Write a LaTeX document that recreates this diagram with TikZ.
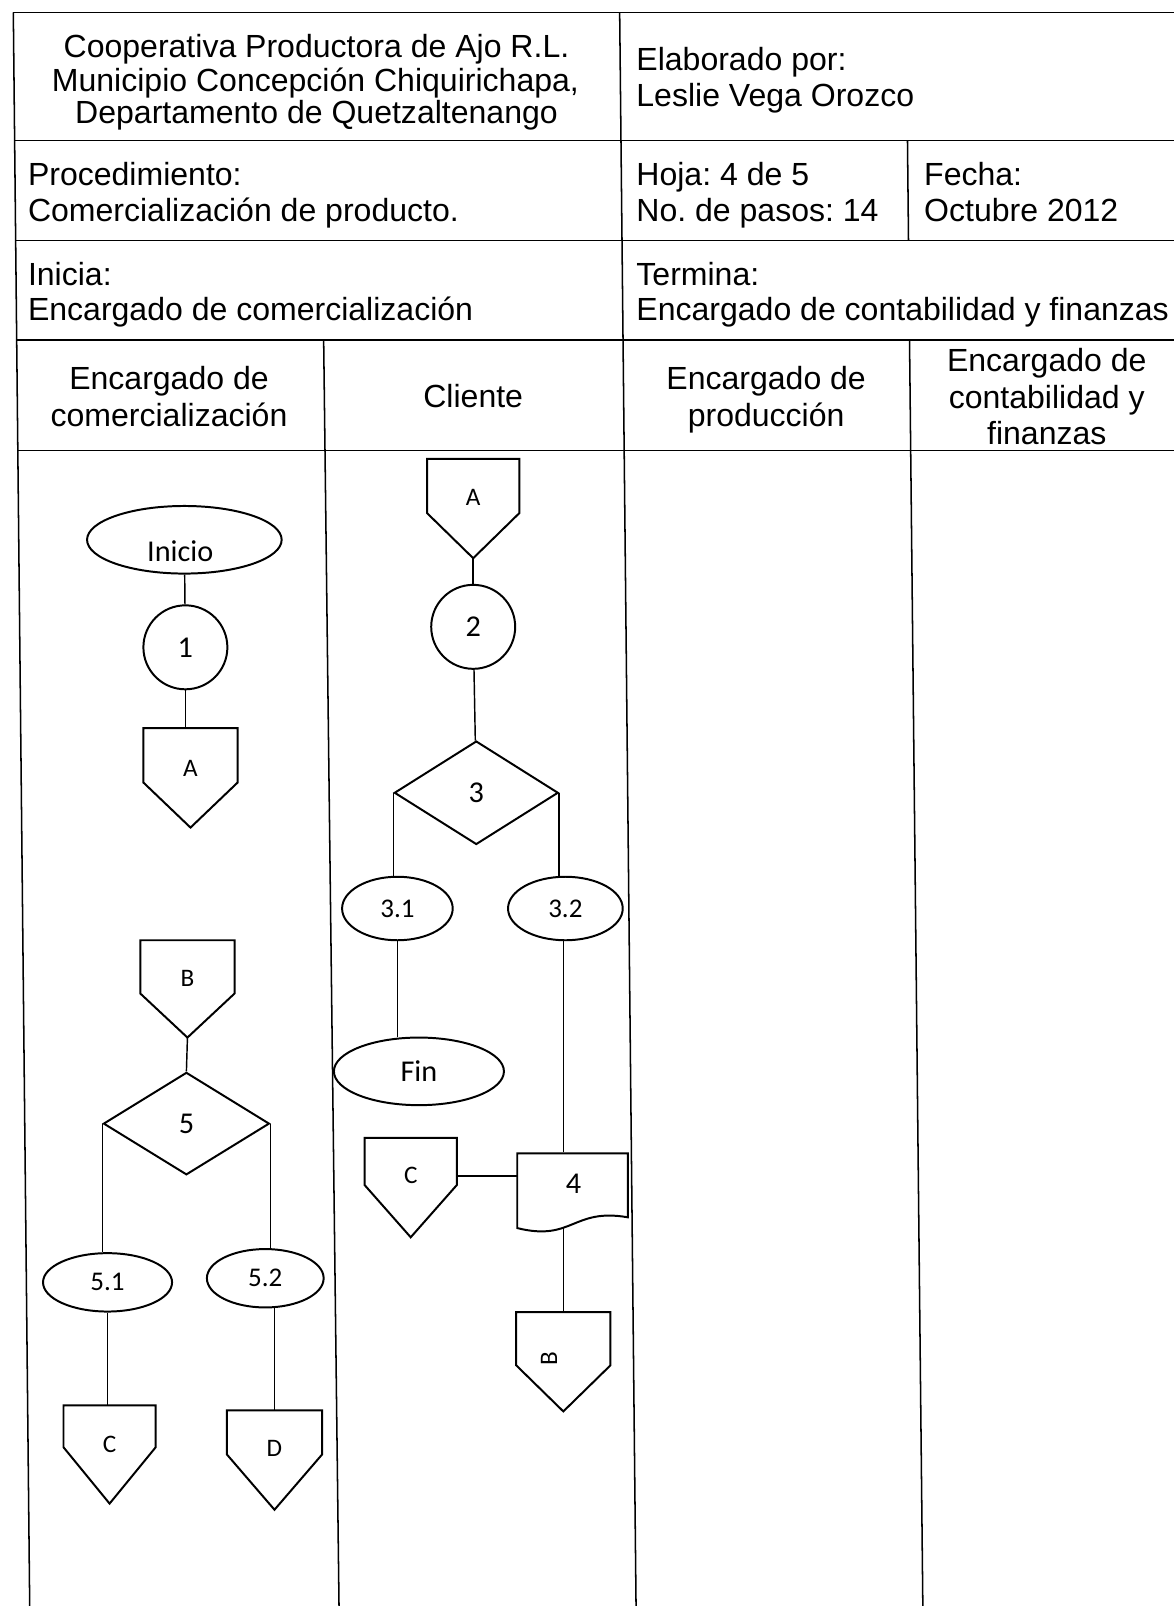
\documentclass[tikz,border=0pt]{standalone}
\usepackage{fontspec}
\setmainfont{Liberation Sans}
\newfontfamily\flowfont{Carlito}
\usetikzlibrary{shapes.geometric}
\frenchspacing

\newcommand\pxu{0.02cm}
% off-page connector: name, centre x, half width, top y, side y, tip y, label y, label
\newcommand\offpage[8]{%
  \draw[shp] (#2-#3,#4) -- (#2+#3,#4) -- (#2+#3,#5) -- (#2,#6) -- (#2-#3,#5) -- cycle;
  \node[lbl] (#1) at (#2,#7) {#8};
  \coordinate (#1-top) at (#2,#4);
  \coordinate (#1-tip) at (#2,#6);
  \coordinate (#1-se) at (#2+#3,#5);
}

\begin{document}
\begin{tikzpicture}[x=0.02cm, y=-0.02cm,
  grid/.style={line width=0.85pt},
  head/.style={font=\fontsize{17.8}{20}\selectfont, inner sep=0pt},
  flowtext/.style={font=\flowfont\fontsize{15}{18}\selectfont},
  bigtext/.style={font=\flowfont\fontsize{16.8}{20}\selectfont},
  shp/.style={draw, line width=1.1pt, line join=miter, flowtext, inner sep=0pt},
  term/.style={shp, ellipse},
  proc/.style={shp, circle, minimum size=82*\pxu, bigtext},
  dec/.style={shp, diamond, bigtext},
  link/.style={line width=0.8pt},
  lbl/.style={font=\flowfont\fontsize{14}{17}\selectfont, inner sep=0pt}]

\fill[white] (0,0) rectangle (1146,1568);
\useasboundingbox (0,0) rectangle (1146,1568);

% ---- table frame ----
\draw[grid] (13,12) -- (1146,12);
\draw[grid] (14.3,137) -- (1146,137);
\draw[grid] (15.3,235) -- (1146,235);
\draw[grid] (16.3,332) -- (1146,332);
\draw[grid] (17.4,440) -- (1146,440);
\draw[grid] (13,12) -- (29,1568);
\draw[grid] (605,12) -- (621,1568);
\draw[grid] (886,137) -- (887,235);
\draw[grid] (888,332) -- (901,1568);
\draw[grid] (316,332) -- (331,1568);

% ---- heading texts ----
\node[head, anchor=base] (coop1) at (309,56) {Cooperativa Productora de Ajo R.L.};
\node[head, anchor=base] (coop2) at (308,89) {Municipio Concepción Chiquirichapa,};
\node[head, anchor=base] (coop3) at (309,121) {Departamento de Quetzaltenango};
\node[head, anchor=base west] (elab1) at (621,69) {Elaborado por:};
\node[head, anchor=base west] (elab2) at (621,104) {Leslie Vega Orozco};
\node[head, anchor=base west] (proc1) at (27,181) {Procedimiento:};
\node[head, anchor=base west] (proc2) at (27,216) {Comercialización de producto.};
\node[head, anchor=base west] (hoja1) at (621,181) {Hoja: 4 de 5};
\node[head, anchor=base west] (hoja2) at (621,216) {No. de pasos: 14};
\node[head, anchor=base west] (fecha1) at (902,181) {Fecha:};
\node[head, anchor=base west] (fecha2) at (902,216) {Octubre 2012};
\node[head, anchor=base west] (ini1) at (27,279) {Inicia:};
\node[head, anchor=base west] (ini2) at (27,313) {Encargado de comercialización};
\node[head, anchor=base west] (ter1) at (621,279) {Termina:};
\node[head, anchor=base west] (ter2) at (621,313) {Encargado de contabilidad y finanzas};

% ---- lane titles ----
\node[head, anchor=base] (lane1a) at (165,380) {Encargado de};
\node[head, anchor=base] (lane1b) at (165,416) {comercialización};
\node[head, anchor=base] (lane2) at (462,398) {Cliente};
\node[head, anchor=base] (lane3a) at (748,380) {Encargado de};
\node[head, anchor=base] (lane3b) at (748,416) {producción};
\node[head, anchor=base] (lane4a) at (1022,363) {Encargado de};
\node[head, anchor=base] (lane4b) at (1022,399) {contabilidad y};
\node[head, anchor=base] (lane4c) at (1022,434) {finanzas};

% ---- lane 1: Encargado de comercialización ----
\node[term, minimum width=190*\pxu, minimum height=66*\pxu] (inicio) at (180,527) {};
\node[bigtext, inner sep=0pt] (inicio-txt) at (176,538) {Inicio};
\node[proc] (p1) at (181,632) {1};
\offpage{cA1}{186}{46}{711}{764}{808}{750}{A}
\draw[link] (inicio) -- (p1);
\draw[link] (p1.south) -- (p1.south |- cA1-top);

\offpage{cB1}{183}{46}{918}{970}{1013}{955}{B}
\node[dec, minimum width=162*\pxu, minimum height=100*\pxu] (d5) at (182,1097) {5};
\node[term, minimum width=126*\pxu, minimum height=57*\pxu] (e51) at (105,1252) {5.1};
\node[term, minimum width=114*\pxu, minimum height=57*\pxu] (e52) at (259,1248) {5.2};
\offpage{cC1}{107}{45}{1372}{1413}{1468}{1410}{C}
\offpage{cD1}{268}{46.5}{1377}{1420}{1474}{1414}{D}
\draw[link] (cB1-tip) -- (d5.north);
\draw[link] (d5.west) -- (d5.west |- e51.north);
\draw[link] (d5.east) -- (d5.east |- e52.north);
\draw[link] (e51.south) -- (e51.south |- cC1-top);
\draw[link] (cD1-top |- e52.south) -- (cD1-top);

% ---- lane 2: Cliente ----
\offpage{cA2}{462}{45}{448}{501}{545}{486}{A}
\node[proc] (p2) at (462,612) {2};
\node[dec, minimum width=160*\pxu, minimum height=101*\pxu] (d3) at (465,774) {3};
\node[term, minimum width=108*\pxu, minimum height=62*\pxu] (e31) at (388,887) {3.1};
\node[term, minimum width=112*\pxu, minimum height=62*\pxu] (e32) at (552,887) {3.2};
\node[term, bigtext, minimum width=166*\pxu, minimum height=66*\pxu] (fin) at (409,1046) {Fin};
\draw[link] (cA2-tip) -- (p2);
\draw[link] (p2) -- (d3);
\draw[link] (d3.west) -- (d3.west |- e31.north);
\draw[link] (d3.east) -- (d3.east |- e32.north);
\draw[link] (e31.south) -- (e31.south |- fin.north);

% document step 4 with wavy lower edge
\draw[shp] (505,1126) -- (613,1126) -- (613,1188.5)
  .. controls (559,1179) and (559,1212.5) .. (505,1199) -- cycle;
\node[bigtext, inner sep=0pt, minimum width=108*\pxu, minimum height=62*\pxu] (d4) at (560,1156) {4};
\coordinate (d4-foot) at (550,1198.5);

\offpage{cC2}{401}{45}{1111}{1157}{1208}{1148}{C}
\offpage{cB2}{550}{46}{1281}{1333}{1378}{1326}{}
\node[lbl, rotate=90] (cB2-txt) at (536,1326) {B};

\draw[link] (e32.south -| d4-foot) -- (d4.north -| d4-foot);
\draw[link] (cC2.east -| cC2-se) -- (cC2.east -| d4.west);
\draw[link] (d4-foot) -- (cB2-top);
\end{tikzpicture}
\end{document}
